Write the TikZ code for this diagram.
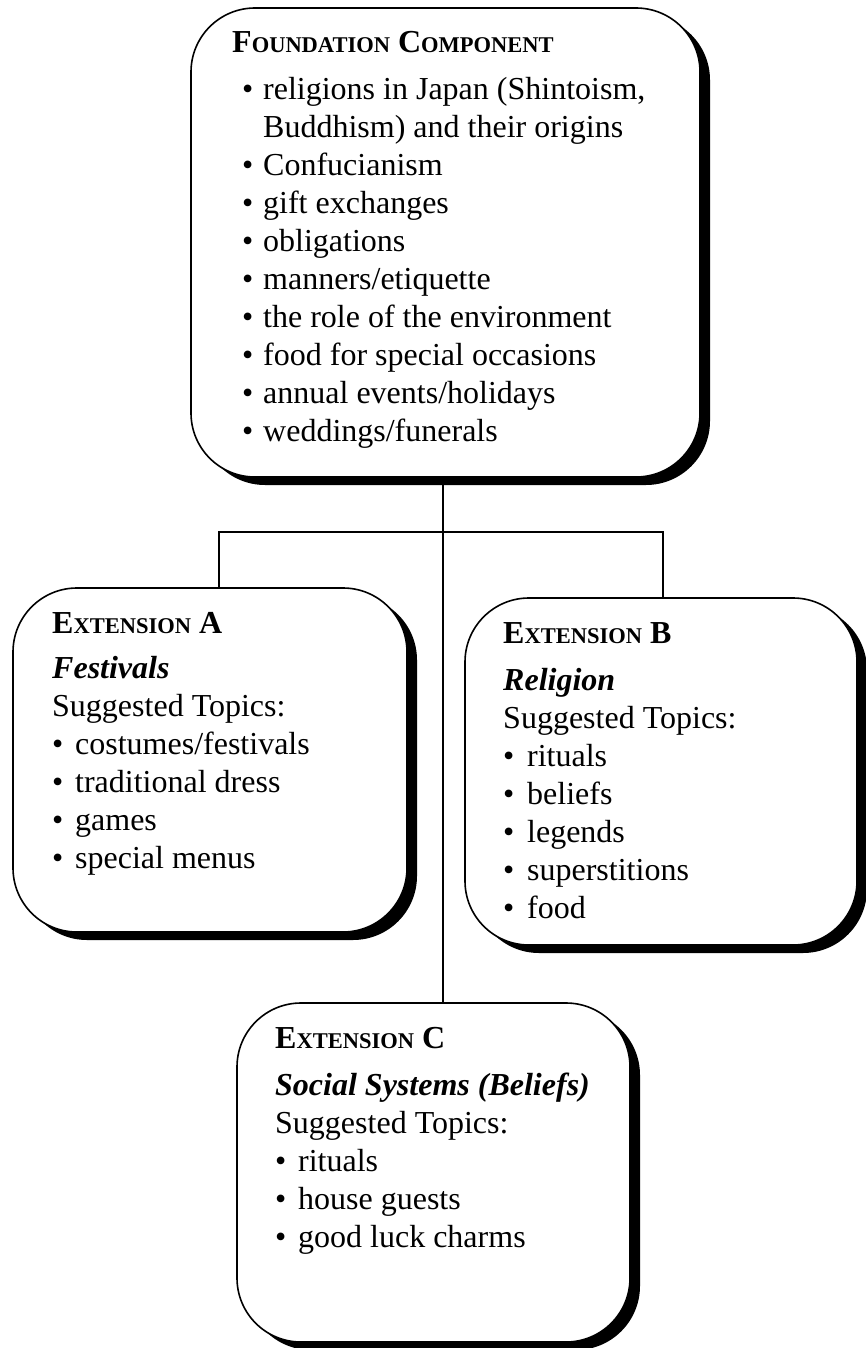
\documentclass[tikz,border=0pt]{standalone}
\usepackage{fontspec}
\setmainfont{Liberation Serif}
\usetikzlibrary{shadows}

% reduced capitals for the box headings
\newcommand{\fsc}[1]{{\fontsize{22.5pt}{24pt}\selectfont #1}}
% one bulleted line: [indent]{bullet column width}{text}
\newcommand{\bitem}[3][0pt]{\hbox{\hspace*{#1}\makebox[#2][l]{\textbullet}#3}}

\begin{document}
\begin{tikzpicture}[x=1pt,y=-1pt,
  panel/.style={draw=black, line width=1.6pt, fill=white, rounded corners=64pt,
    inner sep=0pt,
    drop shadow={shadow xshift=10pt, shadow yshift=-8pt, fill=black, opacity=1}},
  boxtext/.style={anchor=base west, inner sep=0pt,
    font=\fontsize{32pt}{38pt}\selectfont},
  link/.style={line width=1.5pt}]

\useasboundingbox (0,0) rectangle (866,1348);

% boxes
\node[panel, minimum width=509pt, minimum height=469pt] (F) at (445.5,242.5) {};
\node[panel, minimum width=394pt, minimum height=344pt] (A) at (210,760) {};
\node[panel, minimum width=392pt, minimum height=347pt] (B) at (661,771.5) {};
\node[panel, minimum width=393pt, minimum height=339pt] (C) at (433.5,1172.5) {};

% connector junctions
\coordinate (trunk) at (443,532);
\coordinate (jl) at (219,532);
\coordinate (jr) at (663,532);

\draw[link] (trunk |- F.south) -- (trunk |- C.north);
\draw[link] (jl |- A.north) -- (jl) -- (jr) -- (jr |- B.north);

% box contents
\node[boxtext] (Ftext) at (232,53) {\vtop{%
  \hbox{\textbf{F\fsc{OUNDATION} C\fsc{OMPONENT}}}\vskip9pt
  \bitem[10pt]{21pt}{religions in Japan (Shintoism,}
  \hbox{\hspace*{31pt}Buddhism) and their origins}
  \bitem[10pt]{21pt}{Confucianism}
  \bitem[10pt]{21pt}{gift exchanges}
  \bitem[10pt]{21pt}{obligations}
  \bitem[10pt]{21pt}{manners/etiquette}
  \bitem[10pt]{21pt}{the role of the environment}
  \bitem[10pt]{21pt}{food for special occasions}
  \bitem[10pt]{21pt}{annual events/holidays}
  \bitem[10pt]{21pt}{weddings/funerals}}};

\node[boxtext] (Atext) at (52,633) {\vtop{%
  \hbox{\textbf{E\fsc{XTENSION} A}}\vskip7pt
  \hbox{\textbf{\textit{Festivals}}}
  \hbox{Suggested Topics:}
  \bitem{23pt}{costumes/festivals}
  \bitem{23pt}{traditional dress}
  \bitem{23pt}{games}
  \bitem{23pt}{special menus}}};

\node[boxtext] (Btext) at (503,643) {\vtop{%
  \hbox{\textbf{E\fsc{XTENSION} B}}\vskip9pt
  \hbox{\textbf{\textit{Religion}}}
  \hbox{Suggested Topics:}
  \bitem{24pt}{rituals}
  \bitem{24pt}{beliefs}
  \bitem{24pt}{legends}
  \bitem{24pt}{superstitions}
  \bitem{24pt}{food}}};

\node[boxtext] (Ctext) at (275,1048) {\vtop{%
  \hbox{\textbf{E\fsc{XTENSION} C}}\vskip9pt
  \hbox{\textbf{\textit{Social Systems (Beliefs)}}}
  \hbox{Suggested Topics:}
  \bitem{23pt}{rituals}
  \bitem{23pt}{house guests}
  \bitem{23pt}{good luck charms}}};

\end{tikzpicture}
\end{document}
